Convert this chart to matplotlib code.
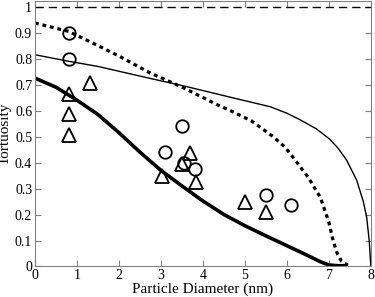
import numpy as np
import matplotlib
matplotlib.use('Agg')
import matplotlib.pyplot as plt

# Datos
# Curva solida gruesa
thick_x = [0, 0.5, 1.0, 1.5, 2.0, 2.5, 3.0, 3.5, 4.0, 4.5, 5.0, 5.5, 6.0, 6.5, 6.8, 7.0, 7.2, 7.45]
thick_y = [0.725, 0.69, 0.64, 0.585, 0.515, 0.44, 0.37, 0.31, 0.252, 0.2, 0.157, 0.118, 0.08, 0.042, 0.018, 0.006, 0.003, 0.003]

# Curva punteada
dot_x = [0, 0.8, 1.5, 2.0, 2.74, 3.37, 3.57, 4.36, 4.72, 5.16, 5.67, 5.95, 6.1, 6.5, 6.8, 7.0, 7.1, 7.2, 7.3, 7.45]
dot_y = [0.937, 0.905, 0.85, 0.81, 0.745, 0.70, 0.685, 0.621, 0.595, 0.56, 0.5, 0.46, 0.43, 0.345, 0.265, 0.17, 0.10, 0.05, 0.02, 0.005]

# Curva solida delgada
thin_x = [0, 0.8, 1.5, 2.74, 3.57, 4.64, 5.6, 6.0, 6.31, 6.7, 7.02, 7.22, 7.42, 7.66, 7.82, 7.9, 7.96, 8.0]
thin_y = [0.815, 0.79, 0.77, 0.724, 0.694, 0.652, 0.615, 0.59, 0.565, 0.53, 0.49, 0.455, 0.41, 0.333, 0.25, 0.19, 0.1, 0.0]

# Linea discontinua en 1
dash_x = [0, 8]
dash_y = [1, 1]

# Puntos experimentales
circ_x = [0.8, 0.8, 3.1, 3.5, 3.55, 3.8, 5.5, 6.1]
circ_y = [0.9, 0.8, 0.44, 0.54, 0.40, 0.375, 0.275, 0.235]
tri_x = [0.8, 0.8, 0.8, 1.3, 3.03, 3.5, 3.7, 3.83, 5.0, 5.5]
tri_y = [0.665, 0.587, 0.506, 0.705, 0.35, 0.395, 0.435, 0.326, 0.25, 0.208]

plt.rcParams['font.family'] = ['Liberation Serif', 'DejaVu Serif']

fig = plt.figure(figsize=(3.75, 2.97), dpi=100)
ax = fig.add_axes([0.0933, 0.1027, 0.8957, 0.8923])

ax.plot(dash_x, dash_y, color='k', lw=1.0, dashes=(6, 3.5))
ax.plot(thin_x, thin_y, color='k', lw=1.0)
ax.plot(dot_x, dot_y, color='k', lw=2.3, dashes=(1.2, 1.2))
ax.plot(thick_x, thick_y, color='k', lw=2.6, solid_capstyle='butt')

ax.plot(circ_x, circ_y, 'o', mfc='none', mec='k', ms=9, mew=1.3)
ax.plot(tri_x, tri_y, '^', mfc='none', mec='k', ms=10, mew=1.3)

ax.set_xlim(0, 8)
ax.set_ylim(0, 1.02)
ax.set_xticks(range(0, 9))
ax.set_yticks(np.arange(0, 1.01, 0.1))
ax.set_yticklabels(['0', '0.1', '0.2', '0.3', '0.4', '0.5', '0.6', '0.7', '0.8', '0.9', '1'])
ax.tick_params(direction='in', top=True, right=True, length=4, width=0.8,
               color='#808080', labelsize=10, pad=2)
for s in ax.spines.values():
    s.set_color('#808080')
    s.set_linewidth(0.8)

ax.set_xlabel('Particle Diameter (nm)', fontsize=11, labelpad=0)
ax.set_ylabel('Tortuosity', fontsize=11, labelpad=2)

plt.savefig('out.png', dpi=100)
